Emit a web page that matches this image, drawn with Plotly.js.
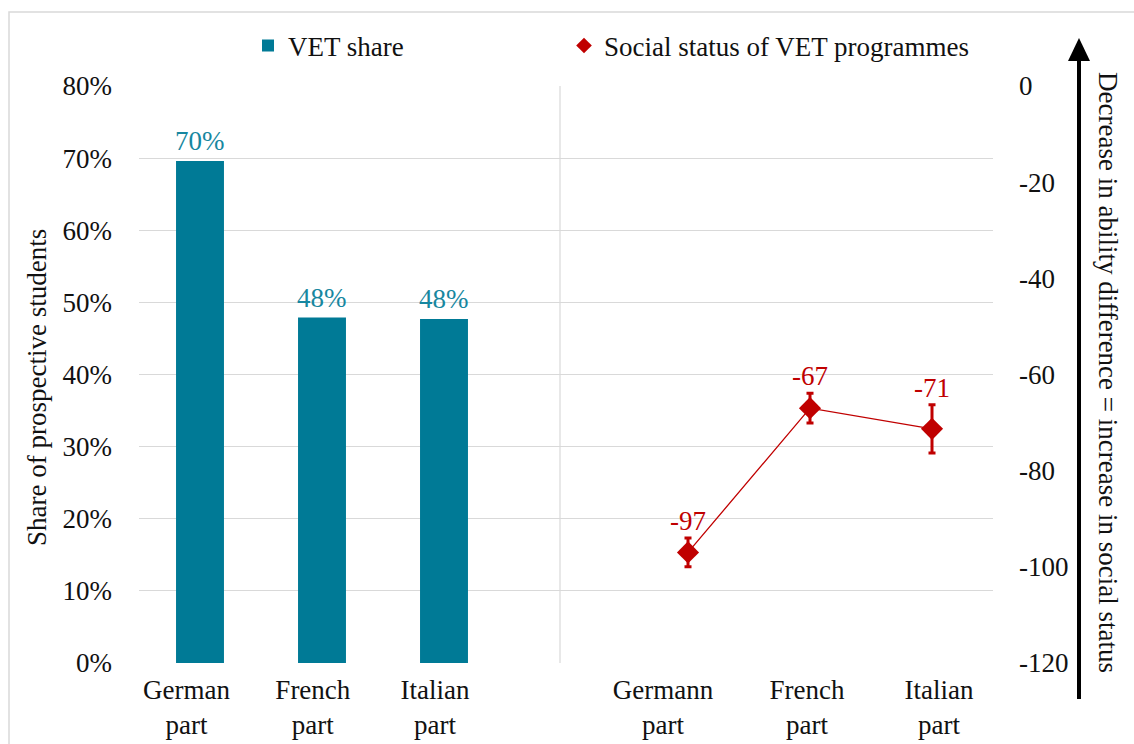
<!DOCTYPE html>
<html>
<head>
<meta charset="utf-8">
<script src="https://cdn.plot.ly/plotly-3.0.1.min.js"></script>
<style>html,body{margin:0;padding:0;background:#fff;}#chart{width:1134px;height:744px;}</style>
</head>
<body>
<div id="chart"></div>
<script>
// ---- data ----
const leftCategories = ['German<br>part', 'French<br>part', 'Italian<br>part'];
const rightCategories = ['Germann<br>part', 'French<br>part', 'Italian<br>part'];
const vetShare = [69.6, 47.9, 47.7];          // % of prospective students
const socialStatus = [-97, -67, -71.3];        // ability difference
const socialStatusError = [3, 3.1, 5];         // error bar half-length
const leftTicks = [0, 10, 20, 30, 40, 50, 60, 70, 80];
const rightTicks = [-120, -100, -80, -60, -40, -20, 0];

// ---- layout helpers ----
const W = 1134, H = 744, L = 139, R = 993, T = 86, B = 663;
const px2x = p => (p - L) / (R - L);
const py2y = p => (B - p) / (B - T);
const FONT = 'Liberation Serif, Times New Roman, serif';

const leftX = leftCategories.map((_, i) => i);
const rightX = rightCategories.map((_, i) => i + leftCategories.length + 1);
const tickShift = [-0.11, -0.075, -0.074, -0.205, -0.025, 0.057];

const barTrace = {
  type: 'bar', name: 'VET share', x: leftX, y: vetShare,
  width: 0.393, marker: {color: '#007A96'},
  xaxis: 'x', yaxis: 'y', legend: 'legend', hoverinfo: 'y'
};
const lineTrace = {
  type: 'scatter', mode: 'lines', x: rightX, y: socialStatus,
  line: {color: '#C00000', width: 1.3}, xaxis: 'x', yaxis: 'y2',
  showlegend: false, hoverinfo: 'skip'
};
const pointTrace = {
  type: 'scatter', mode: 'markers', name: 'Social status of VET programmes',
  x: rightX, y: socialStatus, xaxis: 'x', yaxis: 'y2', legend: 'legend2',
  marker: {symbol: 'diamond', size: 17, color: '#C00000'},
  error_y: {type: 'data', array: socialStatusError, visible: true, color: '#C00000', thickness: 3, width: 3.5}
};

const annotations = [];
vetShare.forEach((v, i) => annotations.push({
  x: leftX[i], y: v, xref: 'x', yref: 'y', text: Math.round(v) + '%', showarrow: false,
  yanchor: 'middle', yshift: 20, font: {family: FONT, size: 27, color: '#1787A0'}
}));
socialStatus.forEach((v, i) => annotations.push({
  x: rightX[i], y: v + socialStatusError[i], xref: 'x', yref: 'y2', text: String(Math.round(v)), showarrow: false,
  yanchor: 'middle', yshift: 17, font: {family: FONT, size: 27, color: '#C00000'}
}));
annotations.push({
  x: px2x(37), y: py2y(388), xref: 'paper', yref: 'paper', text: 'Share of prospective students',
  textangle: -90, showarrow: false, xanchor: 'center', yanchor: 'middle',
  font: {family: FONT, size: 27, color: '#111'}
});
annotations.push({
  x: px2x(1108), y: py2y(372), xref: 'paper', yref: 'paper',
  text: 'Decrease in ability difference = increase in social status',
  textangle: 90, showarrow: false, xanchor: 'center', yanchor: 'middle',
  font: {family: FONT, size: 27, color: '#111'}
});

const shapes = [
  // outer frame (top and left edges visible)
  {type: 'rect', xref: 'paper', yref: 'paper', x0: px2x(9), x1: px2x(1150), y0: py2y(760), y1: py2y(12),
   line: {color: '#D9D9D9', width: 1.5}, layer: 'below'},
  // separator
  {type: 'line', xref: 'paper', yref: 'paper', x0: px2x(560), x1: px2x(560), y0: 0, y1: 1,
   line: {color: '#D9D9D9', width: 1.2}},
  // arrow shaft
  {type: 'line', xref: 'paper', yref: 'paper', x0: px2x(1079), x1: px2x(1079), y0: py2y(699), y1: py2y(58),
   line: {color: '#000', width: 4}},
  // arrow head
  {type: 'path', xref: 'paper', yref: 'paper',
   path: `M ${px2x(1068)} ${py2y(61)} L ${px2x(1090)} ${py2y(61)} L ${px2x(1079)} ${py2y(38)} Z`,
   fillcolor: '#000', line: {color: '#000', width: 0}}
];

const layout = {
  width: W, height: H, margin: {l: L, r: W - R, t: T, b: H - B, pad: 0},
  paper_bgcolor: '#fff', plot_bgcolor: '#fff',
  font: {family: FONT, size: 27, color: '#111'},
  showlegend: true,
  xaxis: {
    range: [-0.5, 6.5], tickmode: 'array',
    tickvals: leftX.concat(rightX).map((v, i) => v + tickShift[i]),
    ticktext: leftCategories.concat(rightCategories),
    showgrid: false, zeroline: false, showline: false, ticks: '', ticklabelstandoff: 8,
    tickfont: {family: FONT, size: 27, color: '#111'}, fixedrange: true
  },
  yaxis: {
    range: [0, 80], tickmode: 'array', tickvals: leftTicks, ticktext: leftTicks.map(v => v + '%'),
    showgrid: true, gridcolor: '#D9D9D9', gridwidth: 1, zeroline: false, showline: false,
    ticks: '', ticklabelstandoff: 26, tickfont: {family: FONT, size: 27, color: '#111'}
  },
  yaxis2: {
    range: [-120, 0], tickmode: 'array', tickvals: rightTicks, ticktext: rightTicks.map(v => String(v)),
    overlaying: 'y', side: 'right',
    showgrid: false, zeroline: false, showline: false, ticks: '', ticklabelstandoff: 25,
    tickfont: {family: FONT, size: 27, color: '#111'}
  },
  legend: {
    orientation: 'h', x: px2x(248), y: py2y(46), xanchor: 'left', yanchor: 'middle',
    font: {family: FONT, size: 27, color: '#111'}, bgcolor: 'rgba(0,0,0,0)'
  },
  legend2: {
    orientation: 'h', x: px2x(564), y: py2y(46), xanchor: 'left', yanchor: 'middle', itemsizing: 'constant',
    font: {family: FONT, size: 27, color: '#111'}, bgcolor: 'rgba(0,0,0,0)'
  },
  annotations: annotations, shapes: shapes, hovermode: false
};

Plotly.newPlot('chart', [barTrace, lineTrace, pointTrace], layout, {displayModeBar: false, staticPlot: true});
</script>
</body>
</html>
